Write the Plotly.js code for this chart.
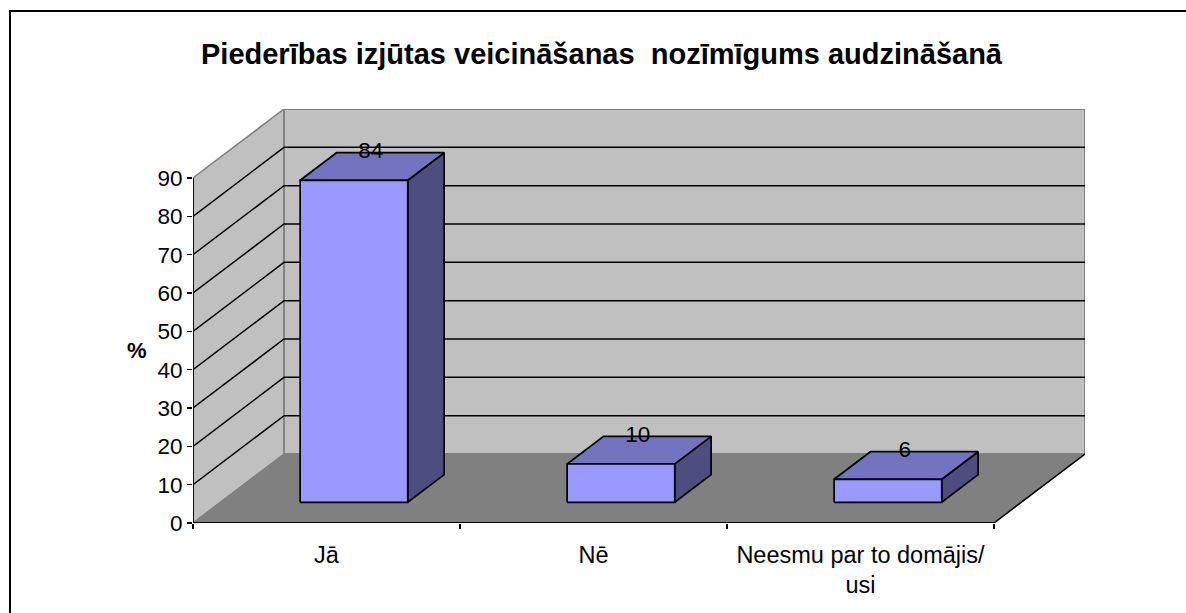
<!DOCTYPE html>
<html>
<head>
<meta charset="utf-8">
<script src="https://cdn.plot.ly/plotly-3.0.1.min.js"></script>
<style>
html,body{margin:0;padding:0;background:#fff;overflow:hidden}
#frame{position:absolute;left:9px;top:10px;width:1300px;height:800px;border:2.5px solid #000;box-sizing:content-box}
#chart{position:absolute;left:0;top:0;width:1186px;height:613px}
</style>
</head>
<body>
<div id="frame"></div>
<div id="chart"></div>
<script>
const titleText = 'Piederības izjūtas veicināšanas  nozīmīgums audzināšanā';
const yTitle = '%';
const categories = ['Jā', 'Nē', 'Neesmu par to domājis/<br>usi'];
const values = [84, 10, 6];
const yTicks = [0, 10, 20, 30, 40, 50, 60, 70, 80, 90];
const gridValues = [10, 20, 30, 40, 50, 60, 70, 80];
const catEdges = [0, 1, 2, 3];

// Oblique 3D projection, expressed in axis units
const depthX = 0.341, depthY = 18;
const barStart = 0.299, barWidth = 0.403;
const barNear = 0.30, barFar = 0.70;
const P = (x, y, d) => [x + d * depthX, y + d * depthY];
const FONT = 'Liberation Sans, Arial, sans-serif';

function poly(points, fill, lineColor, lineWidth) {
  const closed = points.concat([points[0]]);
  return {
    type: 'scatter', mode: 'lines', x: closed.map(p => p[0]), y: closed.map(p => p[1]),
    fill: 'toself', fillcolor: fill,
    line: {color: lineColor, width: lineWidth},
    hoverinfo: 'skip', showlegend: false, cliponaxis: false
  };
}
function seg(points, color, width) {
  return {
    type: 'scatter', mode: 'lines', x: points.map(p => p[0]), y: points.map(p => p[1]),
    line: {color: color, width: width},
    hoverinfo: 'skip', showlegend: false, cliponaxis: false
  };
}

const xMax = 3, yMax = 90;
const traces = [];
// walls and floor
traces.push(poly([P(0,0,0),P(0,yMax,0),P(0,yMax,1),P(0,0,1)], '#C0C0C0', '#808080', 1.5));
traces.push(poly([P(0,0,1),P(0,yMax,1),P(xMax,yMax,1),P(xMax,0,1)], '#C0C0C0', '#808080', 1.8));
traces.push(poly([P(0,0,0),P(0,0,1),P(xMax,0,1),P(xMax,0,0)], '#808080', '#808080', 1));
// gridlines
gridValues.forEach(v => traces.push(seg([P(0,v,0),P(0,v,1),P(xMax,v,1)], '#000', 1.5)));
// floor's right edge, front axis lines
traces.push(seg([P(xMax,0,0),P(xMax,0,1)], '#000', 1.5));
traces.push(seg([P(0,0,0),P(xMax,0,0)], '#000', 2));
traces.push(seg([P(0,0,0),P(0,yMax,0)], '#000', 1.8));
// bars
values.forEach((v, i) => {
  const a = i + barStart, b = a + barWidth;
  traces.push(poly([P(b,0,barNear),P(b,v,barNear),P(b,v,barFar),P(b,0,barFar)], '#4D4D80', '#000', 1.7));
  traces.push(poly([P(a,v,barNear),P(b,v,barNear),P(b,v,barFar),P(a,v,barFar)], '#7373BF', '#000', 1.7));
  traces.push(poly([P(a,0,barNear),P(b,0,barNear),P(b,v,barNear),P(a,v,barNear)], '#9999FF', '#000', 1.7));
});
// value labels
traces.push({
  type: 'scatter', mode: 'text',
  x: values.map((v, i) => i + barStart + barWidth / 2 + (barNear + barFar) / 2 * depthX - 0.005),
  y: values.map(v => v + barFar * depthY),
  text: values.map(String), textposition: 'middle center',
  textfont: {family: FONT, size: 22.5, color: '#000'},
  hoverinfo: 'skip', showlegend: false, cliponaxis: false
});

const layout = {
  width: 1186, height: 613, autosize: false,
  paper_bgcolor: 'rgba(0,0,0,0)', plot_bgcolor: 'rgba(0,0,0,0)',
  margin: {l: 193, t: 109, r: 101, b: 89.5, pad: 0},
  showlegend: false,
  title: {text: '<b>' + titleText + '</b>', font: {family: FONT, size: 29, color: '#000'},
          x: 601.5 / 1186, xanchor: 'center', y: 1 - 54 / 613, yanchor: 'middle'},
  xaxis: {
    range: [0, xMax + depthX], tickmode: 'array',
    tickvals: categories.map((c, i) => i + 0.5), ticktext: categories,
    ticks: '', showgrid: false, zeroline: false, showline: false,
    tickfont: {family: FONT, size: 23.5, color: '#000'}, tickangle: 0, ticklabelstandoff: 15,
    minor: {tickmode: 'array', tickvals: catEdges, ticks: 'outside', ticklen: 5, tickwidth: 1.3, tickcolor: '#000', showgrid: false}
  },
  yaxis: {
    range: [0, yMax + depthY], tickmode: 'array', tickvals: yTicks, ticktext: yTicks.map(String),
    ticks: 'outside', ticklen: 5, tickwidth: 1.5, tickcolor: '#000',
    showgrid: false, zeroline: false, showline: false,
    tickfont: {family: FONT, size: 22.5, color: '#000'}
  },
  annotations: [{
    text: '<b>' + yTitle + '</b>', xref: 'paper', yref: 'paper',
    x: (136.5 - 193) / 892, y: (523.5 - 351) / 414.5, xanchor: 'center', yanchor: 'middle',
    showarrow: false, font: {family: FONT, size: 22, color: '#000'}
  }]
};
Plotly.newPlot('chart', traces, layout, {displayModeBar: false, staticPlot: true});
</script>
</body>
</html>
